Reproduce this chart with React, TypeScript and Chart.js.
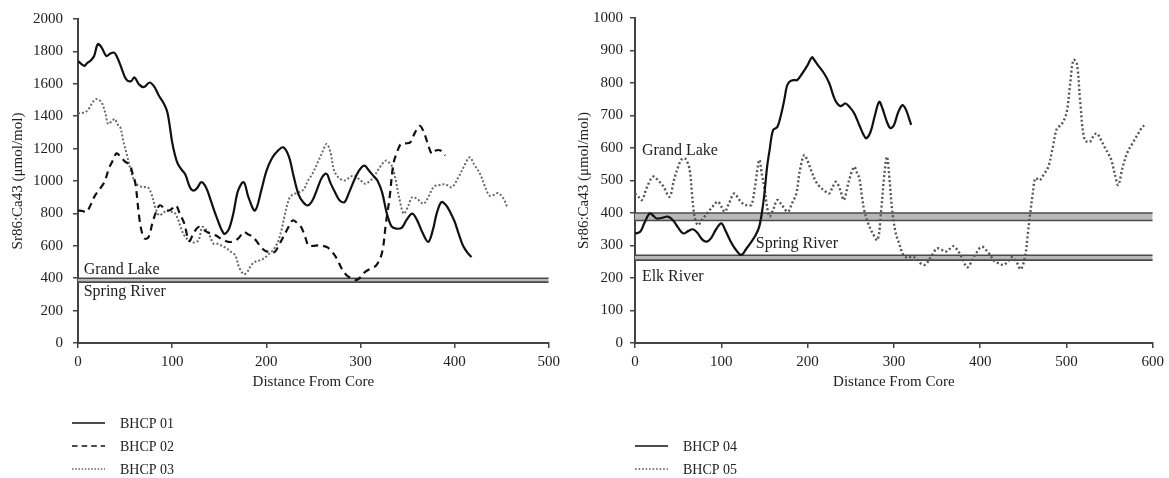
import React, { useEffect, useRef } from "react";
import { Chart, registerables } from "chart.js";

Chart.register(...registerables);

const FONT = '"Liberation Serif", "DejaVu Serif", serif';

// ---------- Left panel data (distance, Sr86:Ca43) ----------
const bhcp01: [number, number][] = [
  [0, 1741], [4, 1720], [7, 1711], [10, 1730], [13, 1741], [17, 1770], [21, 1845], [25, 1825],
  [30, 1772], [34, 1785], [38, 1793], [41, 1772], [46, 1700], [51, 1629], [56, 1615], [60, 1639],
  [65, 1595], [70, 1580], [76, 1608], [81, 1582], [86, 1526], [91, 1480], [95, 1423], [100, 1240],
  [103, 1160], [106, 1106], [110, 1070], [114, 1040], [119, 960], [123, 940], [127, 960], [131, 993],
  [136, 960], [141, 880], [147, 780], [155, 675], [160, 700], [165, 800], [170, 940], [176, 993],
  [181, 900], [188, 818], [195, 950], [200, 1060], [206, 1140], [212, 1185], [218, 1208], [224, 1150],
  [229, 1030], [234, 921], [239, 870], [244, 849], [249, 880], [254, 950], [259, 1020], [264, 1044],
  [268, 990], [273, 930], [278, 880], [283, 870], [288, 930], [293, 1000], [298, 1060], [304, 1095],
  [309, 1065], [314, 1030], [318, 1003], [323, 930], [328, 800], [333, 720], [338, 706], [344, 712],
  [349, 760], [355, 798], [360, 760], [366, 680], [372, 624], [377, 700], [381, 800], [386, 870],
  [391, 850], [396, 800], [400, 750], [404, 680], [409, 600], [414, 555], [418, 531],
];

const bhcp02: [number, number][] = [
  [0, 818], [5, 815], [9, 808], [14, 860], [18, 910], [23, 950], [28, 993], [33, 1080],
  [37, 1126], [41, 1171], [45, 1150], [50, 1120], [55, 1100], [58, 1044], [61, 983], [65, 777],
  [68, 680], [71, 644], [75, 654], [79, 740], [83, 810], [87, 850], [92, 829], [96, 818],
  [100, 830], [104, 849], [108, 800], [113, 736], [118, 630], [123, 680], [128, 716], [133, 700],
  [139, 680], [146, 665], [153, 640], [160, 624], [166, 630], [171, 650], [176, 685], [181, 670],
  [186, 654], [192, 610], [198, 572], [204, 560], [209, 562], [213, 600], [218, 654], [223, 710],
  [228, 757], [233, 740], [237, 716], [241, 660], [245, 600], [250, 600], [255, 603], [260, 600],
  [265, 590], [270, 562], [275, 520], [280, 460], [285, 420], [290, 400], [295, 388], [299, 400],
  [305, 439], [311, 460], [317, 480], [323, 560], [327, 737], [331, 900], [335, 1106], [339, 1180],
  [343, 1229], [348, 1232], [353, 1239], [358, 1300], [363, 1341], [368, 1290], [372, 1220],
  [376, 1167], [380, 1188], [385, 1188], [390, 1157],
];

const bhcp03: [number, number][] = [
  [0, 1417], [4, 1420], [8, 1425], [12, 1450], [16, 1490], [20, 1506], [25, 1485], [29, 1420],
  [32, 1352], [36, 1370], [39, 1383], [42, 1350], [45, 1331], [48, 1250], [52, 1160], [56, 1065],
  [60, 1000], [64, 972], [69, 962], [74, 962], [78, 920], [82, 839], [86, 788], [90, 800],
  [94, 818], [98, 810], [102, 808], [106, 767], [110, 700], [114, 654], [118, 634], [123, 620],
  [128, 634], [132, 716], [136, 700], [140, 660], [144, 613], [148, 613], [153, 600], [158, 583],
  [163, 560], [167, 542], [171, 470], [176, 425], [180, 440], [184, 480], [188, 501], [193, 510],
  [197, 521], [202, 545], [207, 572], [212, 620], [216, 695], [220, 800], [225, 900], [230, 920],
  [235, 931], [240, 950], [244, 1000], [249, 1044], [255, 1120], [259, 1170], [264, 1229],
  [268, 1180], [272, 1065], [277, 1020], [283, 1003], [288, 1020], [293, 1034], [299, 1010],
  [305, 983], [310, 1000], [314, 1023], [320, 1080], [327, 1126], [331, 1110], [334, 1085],
  [338, 990], [341, 900], [346, 798], [351, 850], [355, 900], [360, 890], [367, 860], [372, 900],
  [378, 965], [384, 975], [390, 980], [397, 962], [404, 1023], [410, 1090], [416, 1146],
  [421, 1100], [427, 1044], [432, 970], [437, 910], [442, 915], [446, 925], [451, 900], [456, 839],
];

// ---------- Right panel data ----------
const bhcp04: [number, number][] = [
  [0, 337], [6, 342], [11, 370], [17, 399], [21, 392], [25, 383], [31, 385], [38, 389],
  [44, 378], [50, 355], [56, 337], [62, 345], [67, 350], [72, 340], [78, 318], [83, 312],
  [88, 322], [94, 350], [100, 368], [105, 345], [110, 317], [116, 290], [123, 271], [129, 290],
  [135, 312], [140, 333], [144, 358], [147, 400], [150, 460], [153, 540], [156, 594], [160, 655],
  [165, 665], [169, 700], [173, 748], [176, 790], [179, 804], [184, 809], [188, 809], [194, 830],
  [200, 855], [205, 879], [208, 870], [212, 855], [219, 830], [225, 800], [230, 760], [233, 742],
  [238, 729], [244, 737], [249, 725], [254, 707], [260, 670], [265, 640], [268, 630], [273, 650],
  [278, 700], [283, 742], [287, 720], [292, 680], [296, 661], [300, 670], [305, 710], [310, 732],
  [314, 718], [317, 696], [320, 671],
];

const bhcp05: [number, number][] = [
  [0, 460], [4, 450], [8, 440], [14, 480], [21, 512], [27, 500], [33, 481], [40, 450],
  [45, 500], [50, 542], [54, 565], [58, 568], [63, 537], [66, 460], [69, 389], [73, 363],
  [78, 380], [85, 404], [90, 420], [96, 435], [100, 420], [104, 404], [109, 430], [115, 460],
  [121, 440], [127, 425], [131, 425], [135, 425], [139, 480], [144, 563], [147, 520], [150, 476],
  [153, 420], [156, 389], [160, 410], [165, 440], [170, 425], [177, 404], [182, 430], [187, 460],
  [191, 530], [196, 578], [200, 560], [204, 532], [209, 500], [214, 481], [219, 470], [225, 460],
  [229, 480], [233, 496], [238, 470], [242, 440], [248, 500], [254, 542], [257, 525], [260, 507],
  [263, 450], [266, 404], [270, 370], [275, 340], [281, 317], [285, 400], [289, 520], [292, 573],
  [295, 500], [298, 409], [302, 340], [306, 307], [311, 271], [316, 262], [321, 266], [326, 260],
  [331, 245], [335, 240], [338, 245], [344, 270], [350, 291], [355, 287], [360, 281], [365, 290],
  [369, 298], [375, 281], [380, 255], [385, 233], [390, 250], [395, 275], [402, 296], [410, 276],
  [417, 250], [422, 245], [427, 240], [432, 250], [437, 264], [442, 250], [447, 227], [452, 266],
  [455, 330], [458, 399], [461, 460], [464, 507], [469, 501], [474, 520], [479, 542], [484, 600],
  [489, 661], [494, 671], [500, 707], [504, 790], [508, 871], [512, 861], [516, 740], [521, 625],
  [527, 619], [531, 635], [535, 645], [540, 625], [544, 604], [548, 585], [552, 563], [556, 520],
  [560, 486], [565, 540], [571, 589], [576, 612], [581, 635], [587, 661], [590, 670],
];

// ---------- Reference bands [low, high] ----------
const leftBandGrandLake: [number, number] = [376, 400];
const rightBandGrandLake: [number, number] = [377, 400];
const rightBandSpringElk: [number, number] = [255, 270];

// axis ranges
const leftXRange = [0, 500];
const leftYRange = [0, 2000];
const rightXRange = [0, 600];
const rightYRange = [0, 1000];

// region labels (data coordinates)
const leftRegionLabels = [
  { text: "Grand Lake", x: 6, y: 428 },
  { text: "Spring River", x: 6, y: 290 },
];
const rightRegionLabels = [
  { text: "Grand Lake", x: 8, y: 578 },
  { text: "Spring River", x: 140, y: 292 },
  { text: "Elk River", x: 8, y: 190 },
];

const leftLegendNames = ["BHCP 01", "BHCP 02", "BHCP 03"];
const rightLegendNames = ["BHCP 04", "BHCP 05"];

type Style = { color: string; width: number; dash: number[] };
const SOLID: Style = { color: "#111", width: 2.2, dash: [] };
const DASHED: Style = { color: "#111", width: 2.2, dash: [7, 5] };
const DOTTED_L: Style = { color: "#6a6a6a", width: 2, dash: [2, 2] };
const DOTTED_R: Style = { color: "#555", width: 2.4, dash: [2, 2.4] };

const toPts = (arr: [number, number][]) => arr.map(([x, y]) => ({ x, y }));

function bandDatasets(band: [number, number], xMax: number) {
  return [
    {
      label: "_bandTop",
      data: [{ x: 0, y: band[1] }, { x: xMax, y: band[1] }],
      borderColor: "#4a4a4a",
      borderWidth: 1.6,
      pointRadius: 0,
      fill: false,
      order: 10,
    },
    {
      label: "_bandBottom",
      data: [{ x: 0, y: band[0] }, { x: xMax, y: band[0] }],
      borderColor: "#4a4a4a",
      borderWidth: 1.6,
      pointRadius: 0,
      fill: "-1",
      backgroundColor: "#b8b8b8",
      order: 10,
    },
  ];
}

function seriesDataset(name: string, arr: [number, number][], s: Style) {
  return {
    label: name,
    data: toPts(arr),
    borderColor: s.color,
    borderWidth: s.width,
    borderDash: s.dash,
    pointRadius: 0,
    tension: 0.35,
    fill: false,
    order: 1,
  };
}

function overlayPlugin(
  labels: { text: string; x: number; y: number }[],
  legend: { name: string; style: Style }[],
  legendX: number,
  legendY: number[]
) {
  return {
    id: "overlay",
    afterDraw(chart: any) {
      const { ctx, scales } = chart;
      const xs = scales.x;
      const ys = scales.y;
      ctx.save();
      ctx.fillStyle = "#222";
      ctx.font = `16px ${FONT}`;
      ctx.textBaseline = "alphabetic";
      ctx.textAlign = "left";
      labels.forEach((l) => {
        ctx.fillText(l.text, xs.getPixelForValue(l.x), ys.getPixelForValue(l.y));
      });
      ctx.font = `14px ${FONT}`;
      ctx.textBaseline = "middle";
      legend.forEach((item, i) => {
        const y = legendY[i];
        ctx.beginPath();
        ctx.strokeStyle = item.style.color;
        ctx.lineWidth = 1.5;
        ctx.setLineDash(item.style.dash.length ? item.style.dash.map((d) => d * 0.8) : []);
        ctx.moveTo(legendX, y);
        ctx.lineTo(legendX + 33, y);
        ctx.stroke();
        ctx.setLineDash([]);
        ctx.fillText(item.name, legendX + 48, y + 1);
      });
      ctx.restore();
    },
  };
}

function axisOptions(
  min: number,
  max: number,
  step: number,
  title: string,
  isX: boolean,
  fixedSize: number,
  labelPad: number
) {
  return {
    type: "linear",
    min,
    max,
    ticks: {
      stepSize: step,
      color: "#222",
      font: { family: FONT, size: 15 },
      padding: labelPad,
      maxRotation: 0,
      callback: (v: any) => String(v),
    },
    grid: {
      display: true,
      drawOnChartArea: false,
      drawTicks: true,
      tickLength: 5,
      color: "#444",
      lineWidth: 1.5,
    },
    border: { display: true, color: "#444", width: 2 },
    title: {
      display: true,
      text: title,
      color: "#222",
      font: { family: FONT, size: 15 },
    },
    afterFit: (s: any) => {
      if (isX) s.height = fixedSize;
      else s.width = fixedSize;
    },
  };
}

function buildConfig(opts: {
  datasets: any[];
  xr: number[];
  yr: number[];
  yStep: number;
  yWidth: number;
  yPad: number;
  padding: any;
  plugin: any;
}) {
  return {
    type: "line",
    data: { datasets: opts.datasets },
    options: {
      animation: false,
      responsive: false,
      maintainAspectRatio: false,
      layout: { padding: opts.padding },
      plugins: { legend: { display: false }, tooltip: { enabled: false } },
      scales: {
        x: axisOptions(opts.xr[0], opts.xr[1], 100, "Distance From Core", true, 52, 5),
        y: axisOptions(opts.yr[0], opts.yr[1], opts.yStep, "Sr86:Ca43 (μmol/mol)", false, opts.yWidth, opts.yPad),
      },
    },
    plugins: [opts.plugin],
  };
}

export default function App() {
  const leftRef = useRef<HTMLCanvasElement>(null);
  const rightRef = useRef<HTMLCanvasElement>(null);

  useEffect(() => {
    const left = new Chart(
      leftRef.current as HTMLCanvasElement,
      buildConfig({
        datasets: [
          ...bandDatasets(leftBandGrandLake, leftXRange[1]),
          seriesDataset(leftLegendNames[0], bhcp01, SOLID),
          seriesDataset(leftLegendNames[1], bhcp02, DASHED),
          seriesDataset(leftLegendNames[2], bhcp03, DOTTED_L),
        ],
        xr: leftXRange,
        yr: leftYRange,
        yStep: 200,
        yWidth: 73,
        yPad: 10,
        padding: { left: 5, right: 12, top: 17, bottom: 83 },
        plugin: overlayPlugin(
          leftRegionLabels,
          [
            { name: leftLegendNames[0], style: SOLID },
            { name: leftLegendNames[1], style: DASHED },
            { name: leftLegendNames[2], style: DOTTED_L },
          ],
          72,
          [423, 446, 469]
        ),
      }) as any
    );
    const right = new Chart(
      rightRef.current as HTMLCanvasElement,
      buildConfig({
        datasets: [
          ...bandDatasets(rightBandGrandLake, rightXRange[1]),
          ...bandDatasets(rightBandSpringElk, rightXRange[1]),
          seriesDataset(rightLegendNames[0], bhcp04, SOLID),
          seriesDataset(rightLegendNames[1], bhcp05, DOTTED_R),
        ],
        xr: rightXRange,
        yr: rightYRange,
        yStep: 100,
        yWidth: 64,
        yPad: 7,
        padding: { left: 6, right: 14, top: 18, bottom: 83 },
        plugin: overlayPlugin(
          rightRegionLabels,
          [
            { name: rightLegendNames[0], style: SOLID },
            { name: rightLegendNames[1], style: DOTTED_R },
          ],
          70,
          [446, 469]
        ),
      }) as any
    );
    return () => {
      left.destroy();
      right.destroy();
    };
  }, []);

  return (
    <div
      style={{
        position: "fixed",
        left: 0,
        top: 0,
        width: 1169,
        height: 478,
        background: "#fff",
        overflow: "hidden",
      }}
    >
      <canvas
        ref={leftRef}
        width={565}
        height={478}
        style={{ position: "absolute", left: 0, top: 0, width: 565, height: 478 }}
      />
      <canvas
        ref={rightRef}
        width={604}
        height={478}
        style={{ position: "absolute", left: 565, top: 0, width: 604, height: 478 }}
      />
    </div>
  );
}
